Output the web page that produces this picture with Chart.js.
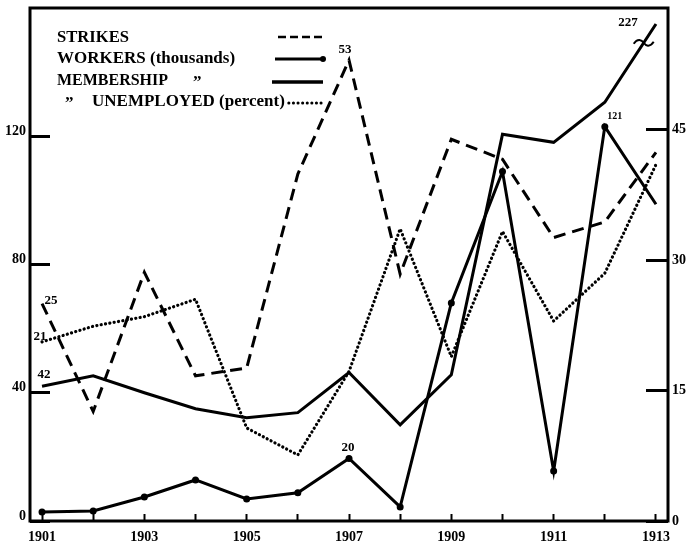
<!DOCTYPE html>
<html>
<head>
    <title>Strikes, workers, membership and unemployed, 1901-1913</title>
    <script src="https://cdn.jsdelivr.net/npm/chart.js@4.4.0/dist/chart.umd.min.js"></script>
    <style>
        html, body {
            margin: 0;
            padding: 0;
            background-color: #ffffff;
        }
        .chart-box {
            width: 697px;
            height: 550px;
        }
    </style>
</head>
<body>
    <div class="chart-box">
        <canvas id="chart" width="697" height="550"></canvas>
    </div>

    <script>
        // Values (1901-1913)
        const years = [1901, 1902, 1903, 1904, 1905, 1906, 1907, 1908, 1909, 1910, 1911, 1912, 1913];
        const strikes = [25, 12.6, 28.6, 16.7, 17.6, 39.9, 53, 28.4, 43.9, 41.6, 32.6, 34.4, 42.4];
        const workers = [2.8, 3.1, 7.5, 12.8, 6.9, 8.8, 19.5, 4.4, 68, 109, 15.6, 123, 98.8];
        const membership = [42, 45.3, 40, 35, 32.2, 33.8, 46.3, 30, 45.6, 120.6, 118.1, 130.6, 155];
        const unemployed = [20.6, 22.4, 23.5, 25.5, 10.7, 7.6, 17.2, 33.6, 18.9, 33.3, 23, 28.5, 41];

        const yearLabels = ['1901', '1903', '1905', '1907', '1909', '1911', '1913'];
        const leftTicks = [0, 40, 80, 120];
        const rightTicks = [0, 15, 30, 45];

        const legendLabels = ['STRIKES', 'WORKERS (thousands)', 'MEMBERSHIP', 'UNEMPLOYED (percent)'];
        const dittoMark = '\u201D';

        // hand written figures next to some points: [dataset, year index, text]
        const pointNotes = [
            [0, 0, '25'], [0, 6, '53'],
            [1, 6, '20'], [1, 11, '121'],
            [2, 0, '42'], [2, 12, '227'],
            [3, 0, '21']
        ];

        const serif = '"Liberation Serif", "DejaVu Serif", serif';
        Chart.defaults.color = '#000';
        Chart.defaults.font.family = serif;

        const xy = (vals) => vals.map((v, i) => ({ x: years[i], y: v }));

        // scales should not ask for extra room round the plot
        function noPadding(s) {
            s.paddingTop = 0;
            s.paddingBottom = 0;
            s.paddingLeft = 0;
            s.paddingRight = 0;
        }

        // frame round the plot + legend + notes
        const decorations = {
            id: 'decorations',
            afterDatasetsDraw(chart) {
                const ctx = chart.ctx;
                const a = chart.chartArea;
                ctx.save();

                // notes
                const offsets = [[9, -3], [-4, -11], [-1, -11], [10, -10], [2, -12], [-28, -1], [-2, -5]];
                ctx.fillStyle = '#000';
                ctx.textAlign = 'center';
                ctx.textBaseline = 'middle';
                pointNotes.forEach((n, k) => {
                    const pt = chart.getDatasetMeta(n[0]).data[n[1]];
                    ctx.font = (n[2] === '121' ? 'bold 10px ' : 'bold 13px ') + serif;
                    ctx.fillText(n[2], pt.x + offsets[k][0], pt.y + offsets[k][1]);
                });

                // break mark on the membership line
                const m = chart.getDatasetMeta(2).data;
                const p1 = m[11], p2 = m[12];
                const cx = p1.x + (p2.x - p1.x) * 0.76;
                const cy = p1.y + (p2.y - p1.y) * 0.76;
                ctx.lineWidth = 2;
                ctx.strokeStyle = '#000';
                ctx.beginPath();
                ctx.moveTo(cx - 10, cy + 1);
                ctx.bezierCurveTo(cx - 6, cy - 5, cx - 2, cy - 3, cx, cy);
                ctx.bezierCurveTo(cx + 2, cy + 3, cx + 6, cy + 5, cx + 10, cy - 1);
                ctx.stroke();

                // frame
                ctx.lineWidth = 3;
                ctx.strokeRect(a.left, a.top, a.right - a.left, a.bottom - a.top);

                // legend
                const L = a.left, T = a.top;
                ctx.textAlign = 'left';
                ctx.textBaseline = 'alphabetic';
                ctx.font = 'bold 17px ' + serif;
                ctx.fillText(legendLabels[0], L + 27, T + 34, 72);
                ctx.fillText(legendLabels[1], L + 27, T + 55, 183);
                ctx.fillText(legendLabels[2], L + 27, T + 77, 111);
                ctx.fillText(dittoMark, L + 163, T + 79);
                ctx.fillText(dittoMark, L + 35, T + 100);
                ctx.fillText(legendLabels[3], L + 62, T + 98);
                const endText = L + 62 + ctx.measureText(legendLabels[3]).width;

                ctx.lineWidth = 2.5;
                ctx.setLineDash([8, 4]);
                ctx.beginPath(); ctx.moveTo(L + 248, T + 29); ctx.lineTo(L + 294, T + 29); ctx.stroke();
                ctx.setLineDash([]);
                ctx.lineWidth = 3;
                ctx.beginPath(); ctx.moveTo(L + 245, T + 51); ctx.lineTo(L + 293, T + 51); ctx.stroke();
                ctx.beginPath(); ctx.arc(L + 293, T + 51, 3, 0, Math.PI * 2); ctx.fill();
                ctx.lineWidth = 3.5;
                ctx.beginPath(); ctx.moveTo(L + 242, T + 74); ctx.lineTo(L + 293, T + 74); ctx.stroke();
                ctx.lineWidth = 3;
                ctx.lineCap = 'round';
                ctx.setLineDash([0.1, 4.5]);
                ctx.beginPath(); ctx.moveTo(endText + 4, T + 95); ctx.lineTo(L + 293, T + 95); ctx.stroke();
                ctx.restore();
            }
        };

        const tickFont = { family: serif, size: 14, weight: 'bold' };

        new Chart(document.getElementById('chart'), {
            type: 'line',
            data: {
                datasets: [{
                    label: 'Strikes',
                    data: xy(strikes),
                    yAxisID: 'y1',
                    borderColor: '#000',
                    borderWidth: 3,
                    borderDash: [12, 7],
                    pointRadius: 0
                }, {
                    label: 'Workers (thousands)',
                    data: xy(workers),
                    yAxisID: 'y',
                    borderColor: '#000',
                    borderWidth: 3,
                    pointRadius: workers.map((v, i) => i < workers.length - 1 ? 3.5 : 0),
                    pointBackgroundColor: '#000',
                    pointBorderWidth: 0
                }, {
                    label: 'Membership',
                    data: xy(membership),
                    yAxisID: 'y',
                    borderColor: '#000',
                    borderWidth: 3,
                    pointRadius: 0
                }, {
                    label: 'Unemployed (percent)',
                    data: xy(unemployed),
                    yAxisID: 'y1',
                    borderColor: '#000',
                    borderWidth: 3.2,
                    borderDash: [0.1, 4.3],
                    borderCapStyle: 'round',
                    pointRadius: 0
                }]
            },
            options: {
                responsive: false,
                animation: false,
                layout: { padding: { top: 8, left: 0, right: 0, bottom: 0 } },
                plugins: {
                    legend: { display: false },
                    tooltip: { enabled: false }
                },
                scales: {
                    x: {
                        type: 'linear',
                        min: 1900.765,
                        max: 1913.235,
                        afterBuildTicks: s => { s.ticks = years.map(v => ({ value: v })); },
                        afterFit: s => { s.height = 29; noPadding(s); },
                        border: { display: false },
                        grid: { drawOnChartArea: false, drawTicks: true, tickLength: -7, tickWidth: 2, tickColor: '#000' },
                        ticks: {
                            autoSkip: false,
                            maxRotation: 0,
                            padding: 15,
                            font: tickFont,
                            callback: v => yearLabels.includes(String(v)) ? String(v) : ''
                        }
                    },
                    y: {
                        position: 'left',
                        min: 0,
                        max: 160,
                        afterBuildTicks: s => { s.ticks = leftTicks.map(v => ({ value: v })); },
                        afterFit: s => { s.width = 30; noPadding(s); },
                        border: { display: false },
                        grid: { drawOnChartArea: false, drawTicks: true, tickLength: -20, tickWidth: 3, tickColor: '#000' },
                        ticks: { padding: 24, labelOffset: -5, font: tickFont }
                    },
                    y1: {
                        position: 'right',
                        min: 0,
                        max: 59,
                        afterBuildTicks: s => { s.ticks = rightTicks.map(v => ({ value: v })); },
                        afterFit: s => { s.width = 29; noPadding(s); },
                        border: { display: false },
                        grid: { drawOnChartArea: false, drawTicks: true, tickLength: -22, tickWidth: 3, tickColor: '#000' },
                        ticks: { padding: 26, font: tickFont }
                    }
                }
            },
            plugins: [decorations]
        });
    </script>
</body>
</html>
